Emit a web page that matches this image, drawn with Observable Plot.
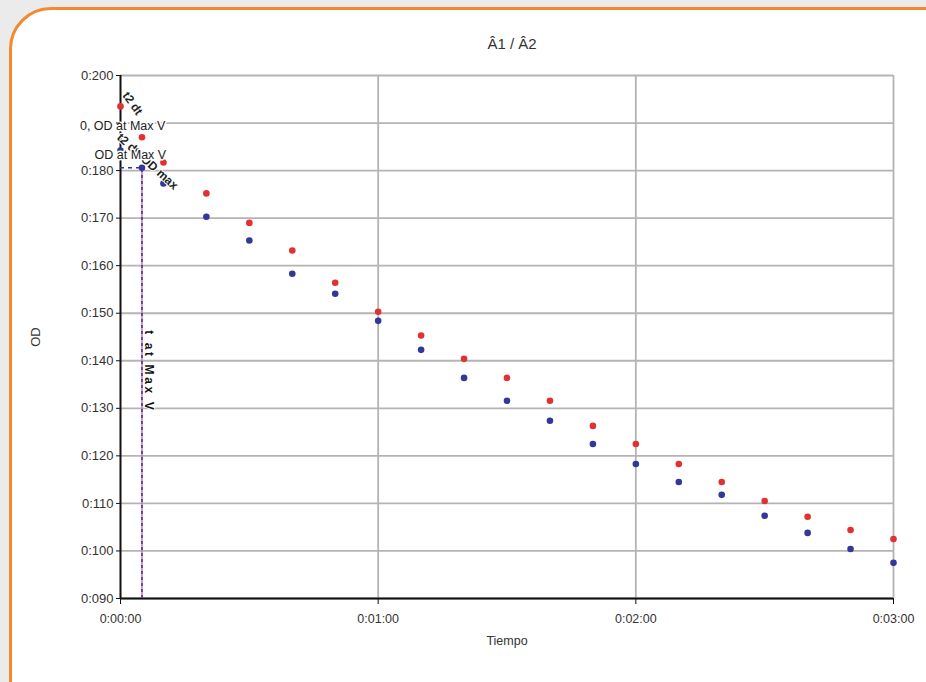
<!DOCTYPE html>
<html><head><meta charset="utf-8">
<script src="https://cdn.jsdelivr.net/npm/d3@7"></script>
<script src="https://cdn.jsdelivr.net/npm/@observablehq/plot@0.6"></script>
<style>
html,body{margin:0;padding:0;background:#ebebeb;width:926px;height:682px;overflow:hidden;font-family:"Liberation Sans",Arial,sans-serif;}
#card{position:absolute;left:9px;top:7px;width:960px;height:720px;border:3px solid #f28a30;border-radius:42px;background:#fff;}
#title{position:absolute;left:0;width:1024px;top:35px;text-align:center;font-size:15px;color:#333;}
#chart{position:absolute;left:0;top:0;}
</style></head>
<body>
<div id="card"></div>
<div id="title">Â1 / Â2</div>
<div id="chart"></div>
<script>
const times = [0,5,10,20,30,40,50,60,70,80,90,100,110,120,130,140,150,160,170,180];
const redOD = [0.1935,0.1870,0.1817,0.1752,0.1690,0.1632,0.1564,0.1503,0.1453,0.1404,0.1364,0.1316,0.1263,0.1225,0.1183,0.1145,0.1105,0.1072,0.1044,0.1025];
const blueOD = [0.1842,0.1806,0.1773,0.1703,0.1653,0.1583,0.1541,0.1484,0.1423,0.1364,0.1316,0.1274,0.1225,0.1183,0.1145,0.1118,0.1074,0.1038,0.1004,0.0975];
const xTicks = [0,60,120,180];
const yTicks = [0.09,0.10,0.11,0.12,0.13,0.14,0.15,0.16,0.17,0.18,0.19,0.20];
const hiddenYTick = 0.19; // covered by the "0, OD at Max V" label in the reference
const maxVTime = 5;
const maxVOD = 0.1806;
const labelsFlat = [
  {t:0.5, od:0.1893, text:"0, OD at Max V"},
  {t:2.3, od:0.1832, text:"OD at Max V"}
];
const labelsDiag = [
  {t:2.8, od:0.1941, text:"t2 dt", rotate:55},
  {t:6.3, od:0.1819, text:"t2 dt, OD max", rotate:42}
];
const labelsVert = [
  {t:6.6, od:0.1378, text:"t at Max V", rotate:90}
];
const red = "#e03232", blue = "#34379a";
const data = times.flatMap((t,i)=>[{t, od:redOD[i], s:"r"},{t, od:blueOD[i], s:"b"}]);
const fmtY = d => Math.abs(d - hiddenYTick) < 1e-9 ? "" : d3.format(".3f")(d).replace(".", ":");
const fmtX = d => "0:0" + (d/60) + ":00";
const chart = Plot.plot({
  width: 926, height: 682,
  marginLeft: 120, marginRight: 33, marginTop: 75, marginBottom: 84,
  style: {fontFamily: "Liberation Sans, Arial, sans-serif", fontSize: "12px", color: "#333", background: "transparent"},
  x: {domain: [0,180]},
  y: {domain: [0.09,0.2]},
  marks: [
    Plot.gridY(yTicks, {stroke: "#b4b4b4", strokeOpacity: 1, strokeWidth: 1.8}),
    Plot.gridX(xTicks.slice(1), {stroke: "#b4b4b4", strokeOpacity: 1, strokeWidth: 1.8}),
    Plot.ruleX([0], {stroke: "#111", strokeWidth: 2}),
    Plot.ruleY([0.09], {stroke: "#111", strokeWidth: 2}),
    Plot.ruleX([maxVTime], {y1: 0.09, y2: maxVOD, stroke: "#d070b0", strokeWidth: 1.5}),
    Plot.ruleX([maxVTime], {y1: 0.09, y2: maxVOD, stroke: blue, strokeWidth: 1.5, strokeDasharray: "3,3"}),
    Plot.ruleY([maxVOD], {x1: 0, x2: maxVTime, stroke: blue, strokeWidth: 1.5, strokeDasharray: "4,4"}),
    Plot.dot(data, {x: "t", y: "od", fill: d => d.s === "r" ? red : blue, r: 3.3}),
    Plot.text(labelsDiag, {x: "t", y: "od", text: "text", rotate: "rotate", fill: "#222", fontSize: 12, fontWeight: "bold", stroke: "white", strokeWidth: 2, paintOrder: "stroke"}),
    Plot.text(labelsFlat, {x: "t", y: "od", text: "text", fill: "#222", fontSize: 12.5, stroke: "white", strokeWidth: 3, paintOrder: "stroke"}),
    Plot.text(labelsVert, {x: "t", y: "od", text: "text", rotate: "rotate", fill: "#111", fontSize: 12, fontWeight: "bold", stroke: "white", strokeWidth: 2, paintOrder: "stroke", className: "vlabel"}),
    Plot.axisX({ticks: xTicks, tickFormat: fmtX, tickSize: 6, tickPadding: 10, fontSize: 12.5, label: "Tiempo", labelAnchor: "center", labelArrow: "none", labelOffset: 46, stroke: "#111"}),
    Plot.axisY({ticks: yTicks, tickFormat: fmtY, tickSize: 4, tickPadding: 3, fontSize: 13, label: "OD", labelAnchor: "center", labelArrow: "none", labelOffset: 90, stroke: "#111"})
  ]
});
d3.select(chart).selectAll(".vlabel text").attr("letter-spacing", "2.6px");
document.getElementById("chart").appendChild(chart);
</script>
</body></html>
